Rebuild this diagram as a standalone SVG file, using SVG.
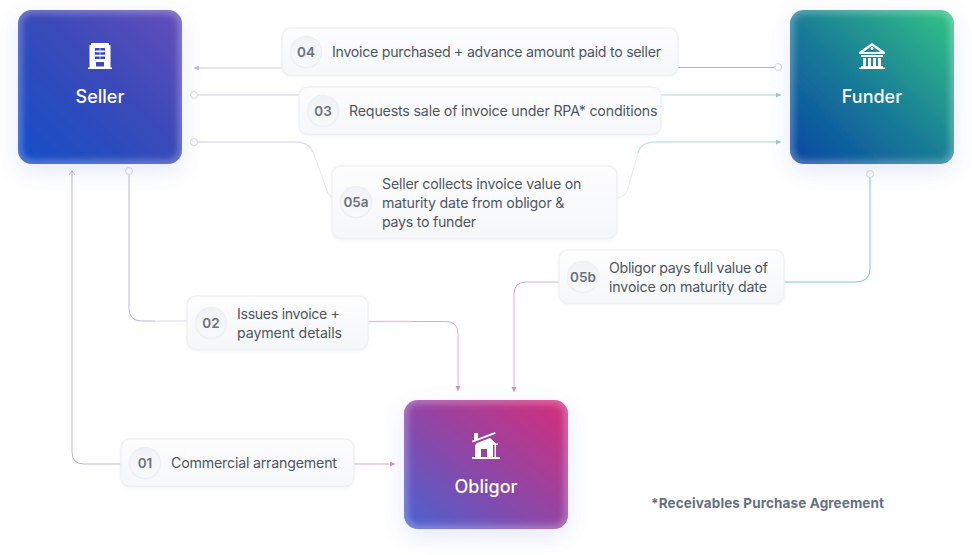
<svg xmlns="http://www.w3.org/2000/svg" width="972" height="555" viewBox="0 0 972 555">
<style>
.t{font-family:"Inter","Noto Sans",sans-serif;font-size:14.2px;fill:#4f5663}
.n{font-family:"Inter","Noto Sans",sans-serif;font-size:13.5px;font-weight:600;fill:#6b7280;text-anchor:middle}
.h{font-family:"Inter","Noto Sans",sans-serif;font-size:18px;font-weight:450;fill:#fff;text-anchor:middle}
.card{fill:url(#cg);stroke:#f0f1f4;stroke-width:1.5}
.badge{fill:url(#bg);stroke:#eef0f3;stroke-width:1.5}
.glow{fill:none;stroke:#fff;stroke-opacity:.36;stroke-width:6;filter:url(#b)}
.c{fill:none;stroke-width:1}
.w{stroke-width:1.6}
.p{stroke:#bdb5ea}.pl{stroke:#dfdbf4}.g{stroke:#86c8c0}.gl{stroke:#c6e6df}.m{stroke:#dcaec8}.ml{stroke:#e4c6d9}
.dot{fill:#fff;stroke-width:1;stroke:#d8d8e0}
.i{fill:#fff}
</style>
<defs>
<linearGradient id="cg" x1="0" y1="0" x2="0" y2="1"><stop offset="0" stop-color="#fdfdfe"/><stop offset="1" stop-color="#f6f7f9"/></linearGradient>
<linearGradient id="bg" x1="0" y1="0" x2="0" y2="1"><stop offset="0" stop-color="#f1f2f6"/><stop offset="1" stop-color="#f9fafb"/></linearGradient>
<linearGradient id="s" x1="0" y1="1" x2="1" y2="0"><stop offset=".05" stop-color="#174fc6"/><stop offset=".55" stop-color="#3b4ab8"/><stop offset="1" stop-color="#654ebb"/></linearGradient>
<linearGradient id="f" x1="0" y1="1" x2="1" y2="0"><stop offset=".08" stop-color="#0a4ea2"/><stop offset=".5" stop-color="#1a7f96"/><stop offset=".95" stop-color="#31bd88"/></linearGradient>
<linearGradient id="o" x1="0" y1="1" x2="1" y2="0"><stop offset=".05" stop-color="#4e60cd"/><stop offset=".45" stop-color="#8b47a8"/><stop offset=".92" stop-color="#cc3080"/></linearGradient>
<filter id="sh" x="-30%" y="-30%" width="160%" height="170%"><feDropShadow dx="0" dy="7" stdDeviation="11" flood-color="#5a70d8" flood-opacity=".16"/></filter>
<filter id="b" x="-10%" y="-10%" width="120%" height="120%"><feGaussianBlur stdDeviation="3.500"/></filter>
<filter id="cs" x="-10%" y="-20%" width="120%" height="140%"><feDropShadow dx="0" dy="1" stdDeviation="1" flood-color="#9aa3b5" flood-opacity=".1"/></filter>
<clipPath id="c1"><rect x="18" y="10" width="164" height="154" rx="14"/></clipPath>
<clipPath id="c2"><rect x="790" y="10" width="164" height="154" rx="14"/></clipPath>
<clipPath id="c3"><rect x="404" y="400" width="164" height="129" rx="14"/></clipPath>
<marker id="ap" markerUnits="userSpaceOnUse" markerWidth="6" markerHeight="6" refX="5" refY="2.500" orient="auto"><path d="M0 0L5 2.500L0 5z" fill="#c0b6ea"/></marker>
<marker id="ao" markerUnits="userSpaceOnUse" markerWidth="7" markerHeight="8" refX="5" refY="3.500" orient="auto"><path d="M1 .5L5 3.500L1 6.500" fill="none" stroke="#bdb5ea" stroke-width="1"/></marker>
<marker id="ag" markerUnits="userSpaceOnUse" markerWidth="6" markerHeight="6" refX="5" refY="2.500" orient="auto"><path d="M0 0L5 2.500L0 5z" fill="#8fd0c2"/></marker>
<marker id="am" markerUnits="userSpaceOnUse" markerWidth="6" markerHeight="6" refX="5" refY="2.500" orient="auto"><path d="M0 0L5 2.500L0 5z" fill="#d291b8"/></marker>
</defs>
<rect width="972" height="555" fill="#fff"/>
<g id="connectors">
<path class="c w pl" marker-end="url(#ap)" d="M282 68H194"/>
<path class="c g" d="M678 67.500H774"/>
<circle class="dot" cx="778" cy="67" r="3.500"/>
<path class="c w pl" d="M198 95H300"/>
<circle class="dot" cx="194" cy="95" r="3.500"/>
<path class="c w gl" marker-end="url(#ag)" d="M661 95H781"/>
<path class="c w pl" d="M198 142H296Q309 142 313 152"/>
<path class="c" stroke="#e8e8f0" d="M313 152L325 185Q328 197 333 197"/>
<circle class="dot" cx="194" cy="142" r="3.500"/>
<path class="c" stroke="#e8eeee" d="M617 198Q626 197 628 188L638 153"/>
<path class="c w gl" marker-end="url(#ag)" d="M638 153Q641 142 655 142H781"/>
<path class="c p" d="M129 175V308Q129 321 142 321H155"/>
<path class="c pl" d="M155 321H188"/>
<circle class="dot" cx="129" cy="171" r="3.500"/>
<path class="c w ml" d="M368 321.500H410"/>
<path class="c m" marker-end="url(#am)" d="M410 321.500H446Q458 321.500 458 334V391"/>
<path class="c p" marker-end="url(#ao)" d="M122 464H84Q72 464 72 452V171"/>
<path class="c w ml" marker-end="url(#am)" d="M354 464H395"/>
<path class="c g" d="M870 177V268Q870 282 856 282H784"/>
<circle class="dot" cx="870" cy="174" r="3.500"/>
<path class="c m" marker-end="url(#am)" d="M559 282H526Q514 282 514 294V392"/>
</g>
<g id="seller">
<rect x="18" y="10" width="164" height="154" rx="14" fill="url(#s)" filter="url(#sh)"/>
<rect class="glow" x="18" y="10" width="164" height="154" rx="14" clip-path="url(#c1)"/>
<path class="i" d="M91 43H109V45H110.500V67.500H112V69H88V67.500H89.500V45H91V43z"/>
<path d="M95 48h4.700v2.500h-4.700zM100.300 48h4.700v2.500h-4.700zM95 52.300h4.700v2.500h-4.700zM100.300 52.300h4.700v2.500h-4.700zM95 56.600h4.700v2.500h-4.700zM100.300 56.600h4.700v2.500h-4.700zM96 62h8v4.500h-8z" fill="#3a4ab8"/>
<text class="h" x="100" y="103">Seller</text>
</g>
<g id="funder">
<rect x="790" y="10" width="164" height="154" rx="14" fill="url(#f)" filter="url(#sh)"/>
<rect class="glow" x="790" y="10" width="164" height="154" rx="14" clip-path="url(#c2)"/>
<path class="i" fill-rule="evenodd" d="M872 43L885 52V54H859V52zM872 47a1.500 1.500 0 1 0 .01 0zM872 45.800L863.500 52H880.500z"/>
<path class="i" d="M861 55h22v2h-22zM863 58h3v8h-3zM868 58h3v8h-3zM873 58h3v8h-3zM878 58h3v8h-3zM861 66h22v1.500h-22zM859 67.500h26v1.500h-26z"/>
<text class="h" x="872" y="103">Funder</text>
</g>
<g id="obligor">
<rect x="404" y="400" width="164" height="129" rx="14" fill="url(#o)" filter="url(#sh)"/>
<rect class="glow" x="404" y="400" width="164" height="129" rx="14" clip-path="url(#c3)"/>
<path class="i" fill-rule="evenodd" d="M474 433h4v5.500l17-6.500 .7 1.800-23 8.800-.7-1.800 2-.8zM477 443l13-5 6 5.500h2v1.500h-2v12h-21v-12zM481 449v8h6v-8zM493 445v12h1.500v-12z"/>
<rect class="i" x="472" y="457" width="28" height="2"/>
<text class="h" x="486" y="493">Obligor</text>
</g>
<g id="step-04">
<rect class="card" x="282" y="28" width="396" height="47.500" rx="9" filter="url(#cs)"/>
<circle class="badge" cx="306" cy="52" r="15.500"/>
<text class="n" x="306" y="57">04</text>
<text class="t" x="332" y="57" textLength="329">Invoice purchased + advance amount paid to seller</text>
</g>
<g id="step-03">
<rect class="card" x="299" y="87" width="362" height="47.500" rx="9" filter="url(#cs)"/>
<circle class="badge" cx="323" cy="111" r="15.500"/>
<text class="n" x="323" y="116">03</text>
<text class="t" x="349" y="116" textLength="308.500">Requests sale of invoice under RPA* conditions</text>
</g>
<g id="step-05a">
<rect class="card" x="332" y="166" width="285" height="72.500" rx="9" filter="url(#cs)"/>
<circle class="badge" cx="356" cy="202" r="15.500"/>
<text class="n" x="356" y="207">05a</text>
<text class="t" x="382" y="189" textLength="199.500">Seller collects invoice value on</text>
<text class="t" x="382" y="208" textLength="182.500">maturity date from obligor &amp;</text>
<text class="t" x="382" y="227" textLength="94">pays to funder</text>
</g>
<g id="step-05b">
<rect class="card" x="559" y="250" width="225" height="53.500" rx="9" filter="url(#cs)"/>
<circle class="badge" cx="583" cy="277" r="15.500"/>
<text class="n" x="583" y="282">05b</text>
<text class="t" x="609" y="273" textLength="159">Obligor pays full value of</text>
<text class="t" x="609" y="292" textLength="158">invoice on maturity date</text>
</g>
<g id="step-02">
<rect class="card" x="187" y="296" width="181" height="53.500" rx="9" filter="url(#cs)"/>
<circle class="badge" cx="211" cy="323" r="15.500"/>
<text class="n" x="211" y="328">02</text>
<text class="t" x="237" y="319" textLength="103">Issues invoice +</text>
<text class="t" x="237" y="338" textLength="105">payment details</text>
</g>
<g id="step-01">
<rect class="card" x="121" y="439" width="233" height="47.500" rx="9" filter="url(#cs)"/>
<circle class="badge" cx="145" cy="463" r="15.500"/>
<text class="n" x="145" y="468">01</text>
<text class="t" x="171" y="468" textLength="166">Commercial arrangement</text>
</g>
<text id="footnote" x="651" y="508" textLength="233" style="font-family:Inter,'Noto Sans',sans-serif;font-size:13.500px;font-weight:700;fill:#667085">*Receivables Purchase Agreement</text>
</svg>
